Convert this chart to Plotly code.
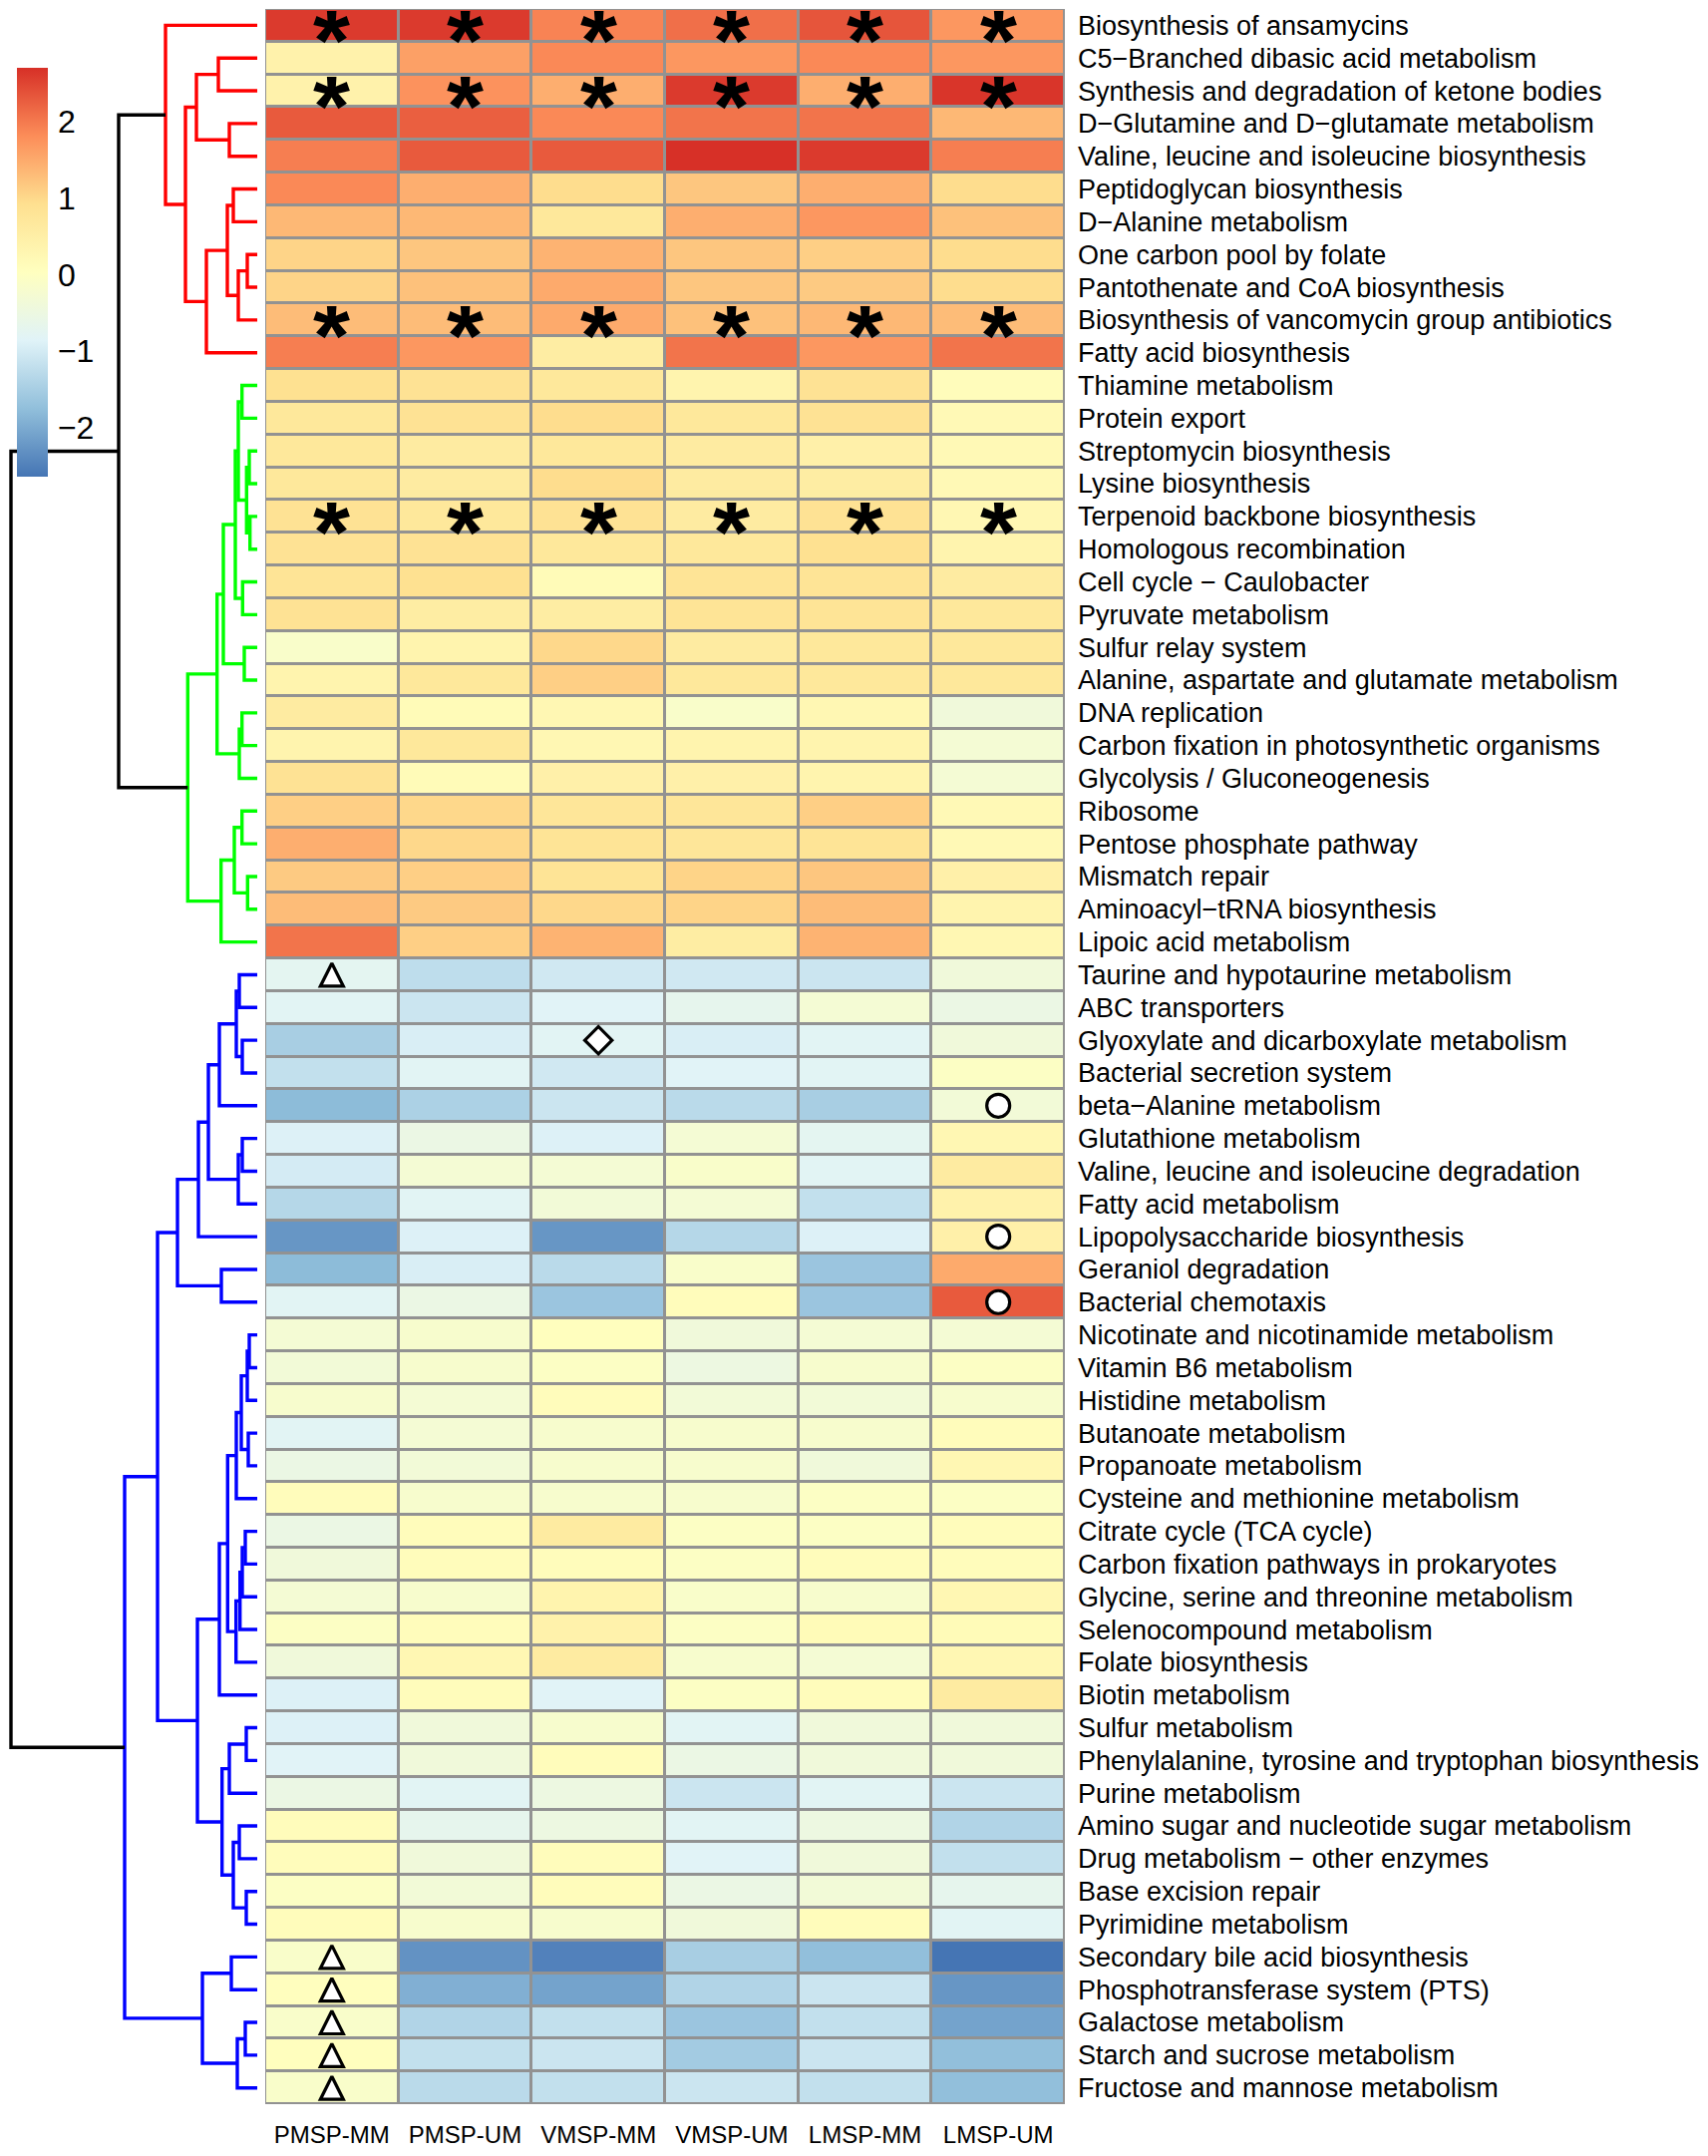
import plotly.graph_objects as go

# ---------------- data ----------------
ROW_LABELS = [
    "Biosynthesis of ansamycins",
    "C5\u2212Branched dibasic acid metabolism",
    "Synthesis and degradation of ketone bodies",
    "D\u2212Glutamine and D\u2212glutamate metabolism",
    "Valine, leucine and isoleucine biosynthesis",
    "Peptidoglycan biosynthesis",
    "D\u2212Alanine metabolism",
    "One carbon pool by folate",
    "Pantothenate and CoA biosynthesis",
    "Biosynthesis of vancomycin group antibiotics",
    "Fatty acid biosynthesis",
    "Thiamine metabolism",
    "Protein export",
    "Streptomycin biosynthesis",
    "Lysine biosynthesis",
    "Terpenoid backbone biosynthesis",
    "Homologous recombination",
    "Cell cycle \u2212 Caulobacter",
    "Pyruvate metabolism",
    "Sulfur relay system",
    "Alanine, aspartate and glutamate metabolism",
    "DNA replication",
    "Carbon fixation in photosynthetic organisms",
    "Glycolysis / Gluconeogenesis",
    "Ribosome",
    "Pentose phosphate pathway",
    "Mismatch repair",
    "Aminoacyl\u2212tRNA biosynthesis",
    "Lipoic acid metabolism",
    "Taurine and hypotaurine metabolism",
    "ABC transporters",
    "Glyoxylate and dicarboxylate metabolism",
    "Bacterial secretion system",
    "beta\u2212Alanine metabolism",
    "Glutathione metabolism",
    "Valine, leucine and isoleucine degradation",
    "Fatty acid metabolism",
    "Lipopolysaccharide biosynthesis",
    "Geraniol degradation",
    "Bacterial chemotaxis",
    "Nicotinate and nicotinamide metabolism",
    "Vitamin B6 metabolism",
    "Histidine metabolism",
    "Butanoate metabolism",
    "Propanoate metabolism",
    "Cysteine and methionine metabolism",
    "Citrate cycle (TCA cycle)",
    "Carbon fixation pathways in prokaryotes",
    "Glycine, serine and threonine metabolism",
    "Selenocompound metabolism",
    "Folate biosynthesis",
    "Biotin metabolism",
    "Sulfur metabolism",
    "Phenylalanine, tyrosine and tryptophan biosynthesis",
    "Purine metabolism",
    "Amino sugar and nucleotide sugar metabolism",
    "Drug metabolism \u2212 other enzymes",
    "Base excision repair",
    "Pyrimidine metabolism",
    "Secondary bile acid biosynthesis",
    "Phosphotransferase system (PTS)",
    "Galactose metabolism",
    "Starch and sucrose metabolism",
    "Fructose and mannose metabolism",
]

COL_LABELS = ["PMSP-MM", "PMSP-UM", "VMSP-MM", "VMSP-UM", "LMSP-MM", "LMSP-UM"]

PMSP_MM = [2.6, 0.4, 0.4, 2.3, 1.95, 1.85, 1.35, 1.05, 1.05, 1.3, 1.95,
           0.9, 0.7, 0.7, 0.7, 0.85, 0.85, 0.8, 0.85, -0.15, 0.35, 0.6, 0.35, 0.85,
           1.1, 1.45, 1.15, 1.3, 2.05,
           -0.75, -0.8, -1.5, -1.2, -1.8, -0.9, -1.0, -1.35, -2.25, -1.8, -0.8,
           -0.3, -0.35, -0.2, -0.8, -0.55, 0.1, -0.55, -0.4, -0.3, -0.05, -0.4, -0.9,
           -0.9, -0.85, -0.55, 0.1, 0.1, -0.05, 0.1,
           -0.15, 0.05, -0.15, 0.05, -0.15]
PMSP_UM = [2.6, 1.6, 1.75, 2.25, 2.3, 1.45, 1.35, 1.2, 1.25, 1.3, 1.7,
           0.85, 0.85, 0.6, 0.6, 0.7, 0.85, 0.9, 0.55, 0.35, 0.7, 0.15, 0.7, 0.15,
           1.0, 1.0, 1.1, 1.15, 1.1,
           -1.25, -1.1, -0.95, -0.8, -1.45, -0.55, -0.3, -0.8, -0.9, -0.95, -0.55,
           -0.2, -0.2, -0.3, -0.3, -0.35, -0.2, 0.1, 0.1, -0.2, 0.1, 0.25, 0.1,
           -0.4, -0.4, -0.8, -0.7, -0.4, -0.35, -0.2,
           -2.3, -1.95, -1.4, -1.2, -1.3]
VMSP_MM = [1.9, 1.85, 1.45, 1.85, 2.3, 0.95, 0.7, 1.4, 1.5, 1.5, 0.55,
           0.7, 0.95, 0.7, 0.95, 0.85, 0.7, 0.15, 0.55, 1.0, 1.1, 0.25, 0.25, 0.45,
           0.75, 0.8, 0.8, 1.0, 1.4,
           -1.05, -0.85, -0.8, -1.05, -1.1, -0.9, -0.3, -0.35, -2.25, -1.3, -1.65,
           0.05, -0.05, 0.1, -0.2, -0.2, -0.2, 0.6, 0.1, 0.35, 0.4, 0.6, -0.85,
           -0.2, 0.1, -0.5, -0.5, 0.1, 0.1, -0.2,
           -2.5, -2.1, -1.2, -1.1, -1.2]
VMSP_UM = [2.1, 1.7, 2.6, 2.05, 2.7, 1.2, 1.45, 1.2, 1.2, 1.25, 2.05,
           0.35, 0.7, 0.6, 0.6, 0.6, 0.7, 0.8, 0.8, 0.6, 0.7, -0.15, 0.35, 0.45,
           0.75, 0.75, 1.05, 1.05, 0.55,
           -1.05, -0.7, -0.95, -0.85, -1.3, -0.3, -0.15, -0.3, -1.35, -0.15, 0.1,
           -0.4, -0.5, -0.35, -0.2, -0.2, -0.2, -0.05, -0.05, -0.15, -0.05, -0.2, -0.05,
           -0.8, -0.55, -1.1, -0.8, -0.85, -0.55, -0.4,
           -1.5, -1.4, -1.65, -1.55, -1.1]
LMSP_MM = [2.35, 1.85, 1.45, 2.05, 2.6, 1.45, 1.7, 1.1, 1.15, 1.35, 1.7,
           0.85, 0.85, 0.45, 0.55, 0.85, 0.9, 0.8, 0.8, 0.7, 0.7, 0.25, 0.35, 0.35,
           1.1, 0.8, 1.2, 1.3, 1.4,
           -1.1, -0.3, -0.8, -0.8, -1.5, -0.75, -0.8, -1.2, -0.9, -1.65, -1.65,
           -0.3, -0.2, -0.35, -0.2, -0.4, -0.05, -0.05, 0.1, -0.2, 0.15, -0.3, 0.1,
           -0.4, -0.4, -0.8, -0.5, -0.4, -0.35, 0.1,
           -1.75, -1.1, -1.2, -1.1, -1.2]
LMSP_UM = [1.7, 1.7, 2.65, 1.35, 1.95, 0.95, 1.25, 0.95, 0.95, 1.3, 2.05,
           0.1, 0.2, 0.2, 0.2, 0.25, 0.35, 0.6, 0.7, 0.7, 0.7, -0.4, -0.3, -0.3,
           0.2, 0.2, 0.45, 0.35, 0.25,
           -0.4, -0.55, -0.4, -0.05, -0.35, 0.25, 0.6, 0.4, 0.45, 1.5, 2.3,
           -0.3, -0.05, -0.2, 0.1, 0.25, -0.05, 0.1, 0.1, 0.25, 0.15, 0.25, 0.6,
           -0.4, -0.4, -1.1, -1.4, -1.2, -0.7, -0.8,
           -2.65, -2.25, -2.1, -1.75, -1.75]

SERIES = [PMSP_MM, PMSP_UM, VMSP_MM, VMSP_UM, LMSP_MM, LMSP_UM]

# significance symbols (row indices, column index)
STAR_ROWS = [0, 2, 9, 15]              # every column
TRIANGLE_ROWS = [29, 59, 60, 61, 62, 63]
TRIANGLE_COL = 0
DIAMOND_ROWS = [31]
DIAMOND_COL = 2
CIRCLE_ROWS = [33, 37, 39]
CIRCLE_COL = 5

# row dendrogram: (merge height, left, right); leaves are row indices
RED_TREE = (92, 0, (72, (61, (39, 1, 2), (28, 3, 4)),
                    (51, (30, (24, 5, 6), (19, (10, 7, 8), 9)), 10)))
GREEN_TREE = (69.7,
              (40.3,
               (34, (22, (19, (15.3, 11, 12), (10.7, (8, 13, 14), (7.3, 15, 16))),
                     (14.7, 17, 18)),
                (13, 19, 20)),
               (18, (15.3, 21, 22), 23)),
              (36.3, (23, (15.3, 24, 25), (9.7, 26, 27)), 28))
BLUE_TREE = (133,
             (100,
              (80, (59, (49, (38, (21, (18, 29, 30), (15, 31, 32)), 33),
                         (19, (15, 34, 35), 36)), 37),
               (36, 38, 39)),
              (60,
               (38, (29.7, (21, (16, (10, (8, 40, 41), 42), (9, 43, 44)), 45),
                     (21.3, (17.3, (15, (12, 46, 47), 48), 49), 50)), 51),
               (35.3, (28, (11, 52, 53), 54), (24, (18, 55, 56), (11, 57, 58))))),
             (55, (26, 59, 60), (20, (12, 61, 62), 63)))
TOP_TREE = (247, (139, "red", "green"), "blue")
CLUSTERS = {"red": RED_TREE, "green": GREEN_TREE, "blue": BLUE_TREE}
BRANCH_COLORS = {"red": "#FF0000", "green": "#00FF00", "blue": "#0000FF", "black": "#000000"}

# ---------------- figure ----------------
OFF = 8                      # default page margin around the plot div
W, H = 1713 - 2 * OFF, 2162 - 2 * OFF


def fx(px):                  # page pixel -> paper x
    return (px - OFF) / W


def fy(py):                  # page pixel -> paper y
    return 1 - (py - OFF) / H


n_rows, n_cols = len(ROW_LABELS), len(COL_LABELS)
z = [[SERIES[c][r] for c in range(n_cols)] for r in range(n_rows)]
zmin = min(min(s) for s in SERIES)
zmax = max(max(s) for s in SERIES)

palette = ["#4575B4", "#91BFDB", "#E0F3F8", "#FFFFBF", "#FEE090", "#FC8D59", "#D73027"]
colorscale = [[i / (len(palette) - 1), col] for i, col in enumerate(palette)]

HM_LEFT, HM_RIGHT, HM_TOP, HM_BOTTOM = 266, 1068, 9, 2115
DEN_LEFT_PX, DEN_RIGHT_PX, LEAF_PX = 8, 262, 258

fig = go.Figure()

fig.add_trace(go.Heatmap(
    z=z, x=list(range(n_cols)), y=list(range(n_rows)),
    colorscale=colorscale, zmin=zmin, zmax=zmax,
    xgap=3, ygap=3, hoverinfo="skip",
    colorbar=dict(
        x=fx(16.5), xanchor="left", xpad=0,
        y=fy(274), yanchor="middle", ypad=0,
        thickness=31, thicknessmode="pixels",
        len=410, lenmode="pixels",
        outlinewidth=0,
        tickvals=[-2, -1, 0, 1, 2],
        ticks="outside", ticklen=4, tickcolor="rgba(0,0,0,0)",
        tickfont=dict(size=32, family="Liberation Sans, Arial, sans-serif", color="black"),
    ),
))

# dendrogram segments
segs = {k: ([], []) for k in BRANCH_COLORS}


def walk(node, color):
    if isinstance(node, str):
        return walk(CLUSTERS[node], node)
    if isinstance(node, int):
        return 0.0, float(node)
    h, left, right = node
    hl, yl = walk(left, color)
    hr, yr = walk(right, color)
    xs, ys = segs[color]
    xs += [hl, h, h, hr, None]
    ys += [yl, yl, yr, yr, None]
    return h, (yl + yr) / 2


walk(TOP_TREE, "black")
for name, (xs, ys) in segs.items():
    if xs:
        fig.add_trace(go.Scatter(
            x=xs, y=ys, mode="lines", xaxis="x2", yaxis="y",
            line=dict(color=BRANCH_COLORS[name], width=3.4),
            hoverinfo="skip", showlegend=False,
        ))

# symbols
sym_style = dict(color="white", line=dict(color="black", width=3.2))
TRI_SIZE = 23
fig.add_trace(go.Scatter(
    x=[TRIANGLE_COL] * len(TRIANGLE_ROWS), y=TRIANGLE_ROWS, mode="markers",
    marker=dict(symbol="arrow-down", angle=180, standoff=TRI_SIZE / 2,
                size=TRI_SIZE, **sym_style),
    hoverinfo="skip", showlegend=False, cliponaxis=False,
))
fig.add_trace(go.Scatter(
    x=[DIAMOND_COL] * len(DIAMOND_ROWS), y=DIAMOND_ROWS, mode="markers",
    marker=dict(symbol="diamond", size=21, **sym_style),
    hoverinfo="skip", showlegend=False, cliponaxis=False,
))
fig.add_trace(go.Scatter(
    x=[CIRCLE_COL] * len(CIRCLE_ROWS), y=CIRCLE_ROWS, mode="markers",
    marker=dict(symbol="circle", size=23, **sym_style),
    hoverinfo="skip", showlegend=False, cliponaxis=False,
))

annotations = []
for r in STAR_ROWS:
    for c in range(n_cols):
        annotations.append(dict(
            x=c, y=r, xref="x", yref="y", text="*", showarrow=False,
            font=dict(size=95, family="Liberation Sans, Arial, sans-serif",
                      color="black", weight="bold"),
            height=58, valign="middle", borderpad=0,
            yshift=-15,
        ))

grey = "#929292"
fig.add_shape(type="rect", xref="x", yref="y",
              x0=-0.5, x1=n_cols - 0.5, y0=-0.5, y1=n_rows - 0.5,
              fillcolor=grey, line=dict(color=grey, width=3), layer="below")

fig.update_layout(
    width=W, height=H,
    margin=dict(l=0, r=0, t=0, b=0),
    paper_bgcolor="white", plot_bgcolor="white",
    showlegend=False,
    annotations=annotations,
    xaxis=dict(
        domain=[fx(HM_LEFT), fx(HM_RIGHT)], range=[-0.5, n_cols - 0.5],
        tickvals=list(range(n_cols)), ticktext=COL_LABELS, ticks="",
        showgrid=False, zeroline=False, showline=False,
        ticklabelstandoff=14,
        tickfont=dict(size=24, family="Liberation Sans, Arial, sans-serif", color="black"),
        anchor="y",
    ),
    yaxis=dict(
        domain=[fy(HM_BOTTOM), fy(HM_TOP)], range=[n_rows - 0.5, -0.5],
        tickvals=list(range(n_rows)), ticktext=ROW_LABELS, ticks="",
        side="right", showgrid=False, zeroline=False, showline=False,
        ticklabelstandoff=12,
        tickfont=dict(size=27, family="Liberation Sans, Arial, sans-serif", color="black"),
        anchor="x",
    ),
    xaxis2=dict(
        domain=[fx(DEN_LEFT_PX), fx(DEN_RIGHT_PX)],
        range=[LEAF_PX - DEN_LEFT_PX, LEAF_PX - DEN_RIGHT_PX],
        visible=False, anchor="y", showgrid=False, zeroline=False,
    ),
)

fig.write_html("out.html")
